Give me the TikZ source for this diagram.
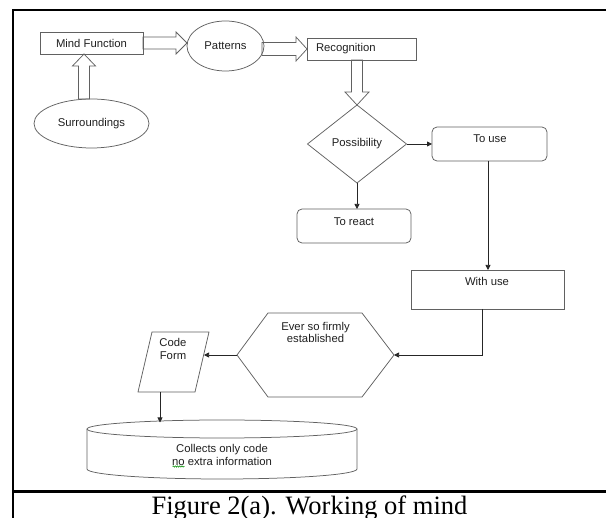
\documentclass[tikz,border=0pt]{standalone}
\usepackage{fontspec}
\setmainfont{Liberation Serif}
\newfontfamily\diagfont{Liberation Sans}
\usetikzlibrary{shapes.geometric,arrows.meta,calc,decorations.pathmorphing}
\begin{document}
\begin{tikzpicture}[x=1pt,y=-1pt,
  every node/.style={font=\diagfont\fontsize{11.3}{12.8}\selectfont, text=black!88, inner sep=0pt, outer sep=0pt},
  shp/.style={draw=black!62, line width=0.75pt},
  rbox/.style={shp, rectangle, rounded corners=5pt},
  sbox/.style={shp, rectangle},
  oval/.style={shp, ellipse},
  ghost/.style={rectangle, draw=none},
  conn/.style={draw=black!85, line width=0.75pt, -{Triangle[length=5pt,width=5pt]}},
  block/.style={draw=black!62, line width=0.75pt, line join=miter},
  frame/.style={line width=2.2pt, black}]
\useasboundingbox (0,0) rectangle (606,518);

% frame
\draw[frame] (606,10) -- (13,10) -- (13,518);
\draw[frame] (13,491.5) -- (606,491.5);

% nodes
\node[sbox, minimum width=103pt, minimum height=22pt] (mf) at (91.5,43) {Mind Function};
\node[oval, minimum width=77pt, minimum height=50pt] (pat) at (225.5,46) {Patterns};
\node[oval, minimum width=115pt, minimum height=49pt] (sur) at (91.5,123.5) {Surroundings};
\node[sbox, minimum width=109pt, minimum height=22pt] (rec) at (361.5,49) {};
\node[anchor=west] (rect) at ([xshift=9pt]rec.west) {Recognition};
\node[diamond, shp, minimum width=99pt, minimum height=78pt] (poss) at (357,144) {Possibility};

\node[rbox, minimum width=115pt, minimum height=34pt] (touse) at (489.5,144) {};
\node (touset) at (490,138.5) {To use};
\node[rbox, minimum width=114pt, minimum height=34pt] (react) at (354,226) {};
\node (reactt) at (354,221.5) {To react};
\node[sbox, minimum width=153pt, minimum height=39pt] (with) at (487.5,289.5) {};
\node (witht) at (487,281.5) {With use};

% hexagon
\node[ghost, minimum width=157pt, minimum height=84pt] (hex) at (315.5,355) {};
\draw[shp] (hex.west) -- ($(hex.north west)+(31,0)$) -- ($(hex.north east)+(-32,0)$) -- (hex.east) -- ($(hex.south east)+(-32,0)$) -- ($(hex.south west)+(31,0)$) -- cycle;
\node[align=center] (hext) at (315.5,332.5) {Ever so firmly\\established};

% parallelogram
\node[ghost, minimum width=71pt, minimum height=60pt] (cf) at (173.5,362) {};
\draw[shp] ($(cf.north west)+(14,0)$) -- (cf.north east) -- ($(cf.south east)+(-14,0)$) -- (cf.south west) -- cycle;
\node[align=center] (cft) at (173,349) {Code\\Form};

% cylinder
\node[ghost, minimum width=270pt, minimum height=59pt] (cyl) at (222,449.5) {};
\draw[shp] ($(cyl.north)+(0,9)$) ellipse [x radius=135pt, y radius=9pt];
\draw[shp] ($(cyl.north west)+(0,9)$) -- ($(cyl.south west)+(0,-10)$) arc[start angle=180, end angle=360, x radius=135pt, y radius=10pt] -- ($(cyl.north east)+(0,9)$);
\node[align=center] (cylt) at (222,455) {Collects only code\\no extra information};
\draw[green!55!black, line width=0.5pt, decorate, decoration={snake, amplitude=0.7pt, segment length=2.2pt}] (172.5,466.5) -- (184.5,466.5);

% hollow block arrows
\draw[block] let \p1=(mf.east), \p2=(pat.west) in
  (\x1,\y1+6pt) -- (\x2-11pt,\y1+6pt) -- (\x2-11pt,\y1+11pt) -- (\x2,\y1) -- (\x2-11pt,\y1-11pt) -- (\x2-11pt,\y1-6pt) -- (\x1,\y1-6pt) -- cycle;
\draw[block] let \p1=(pat.east), \p2=(rec.west) in
  (\x1-2pt,\y2+6.5pt) -- (\x2-11pt,\y2+6.5pt) -- (\x2-11pt,\y2+12pt) -- (\x2,\y2) -- (\x2-11pt,\y2-12pt) -- (\x2-11pt,\y2-6.5pt) -- (\x1-2pt,\y2-6.5pt) -- cycle;
\draw[block] let \p1=($(sur.north)+(-7.5,0)$), \p2=(mf.south) in
  (\x1-5.5pt,\y1) -- (\x1-5.5pt,\y2-12pt) -- (\x1-11.5pt,\y2-12pt) -- (\x1,\y2) -- (\x1+11.5pt,\y2-12pt) -- (\x1+5.5pt,\y2-12pt) -- (\x1+5.5pt,\y1) -- cycle;
\draw[block] let \p1=(rec.south), \p2=(poss.north) in
  (\x2-5.5pt,\y1) -- (\x2-5.5pt,\y2+13pt) -- (\x2-12pt,\y2+13pt) -- (\x2,\y2) -- (\x2+12pt,\y2+13pt) -- (\x2+5.5pt,\y2+13pt) -- (\x2+5.5pt,\y1) -- cycle;

% connectors
\coordinate (cfin) at (204,355);
\coordinate (cylin) at (160,422.5);
\draw[conn] (poss.east) -- (touse.west);
\draw[conn] (poss.south) -- (poss.south |- react.north);
\draw[conn] ([xshift=-1.5pt]touse.south) -- ([xshift=-1.5pt]touse.south |- with.north);
\draw[conn] ([xshift=-5.5pt]with.south) |- (hex.east);
\draw[conn] (hex.west) -- (cfin);
\draw[conn] (cf.south -| cylin) -- (cylin);

% caption
\node[font=\rmfamily\fontsize{26.5}{30}\selectfont, text=black, anchor=base] (cap) at (309.5,514.5) {Figure 2(a). Working of mind};
\end{tikzpicture}
\end{document}
